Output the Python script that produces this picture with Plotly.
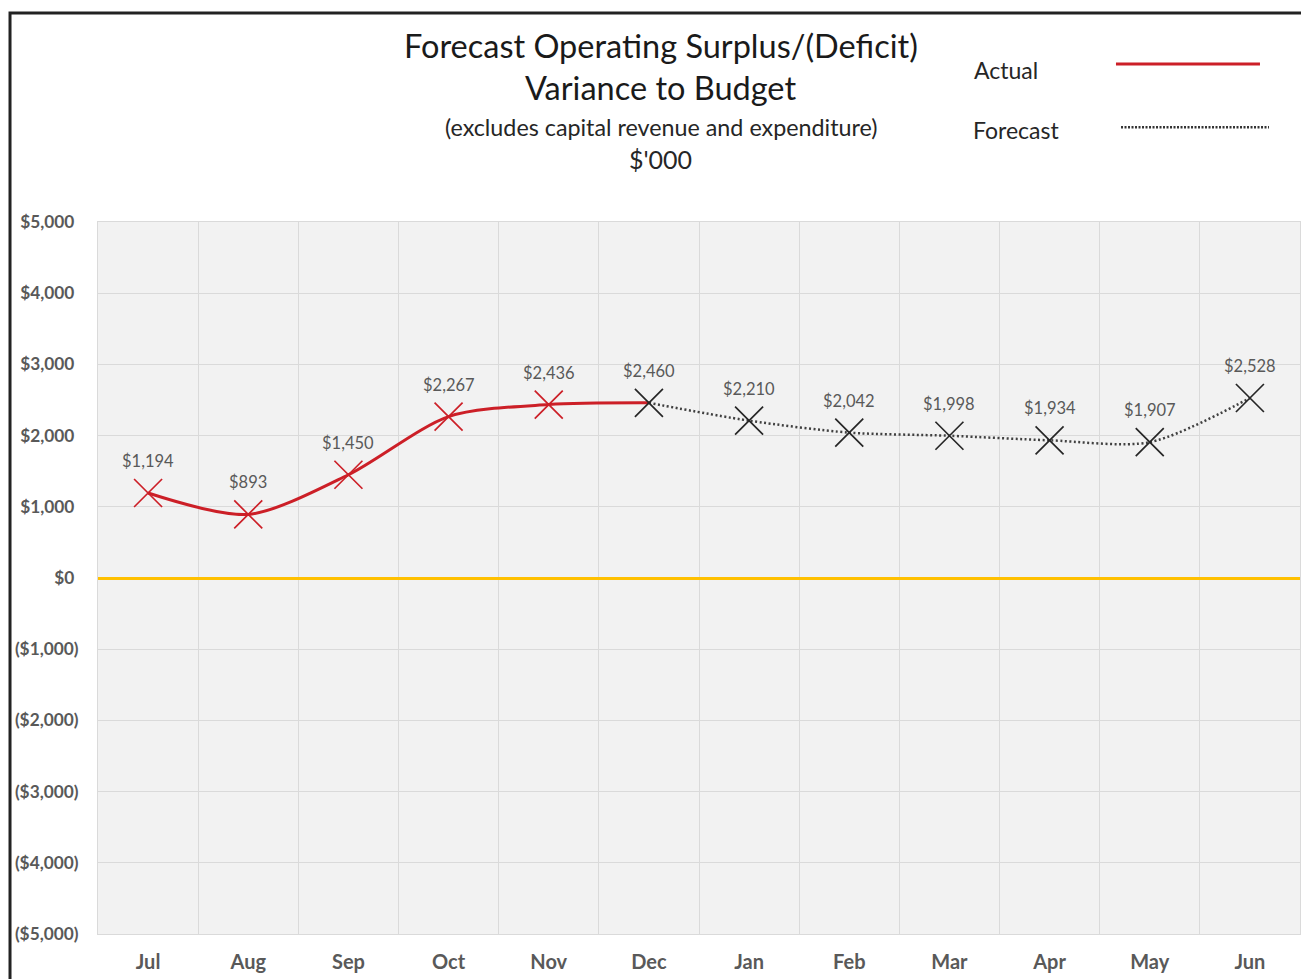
import plotly.graph_objects as go

months = ["Jul", "Aug", "Sep", "Oct", "Nov", "Dec", "Jan", "Feb", "Mar", "Apr", "May", "Jun"]
actual_months = ["Jul", "Aug", "Sep", "Oct", "Nov", "Dec"]
actual_values = [1194, 893, 1450, 2267, 2436, 2460]
forecast_months = ["Dec", "Jan", "Feb", "Mar", "Apr", "May", "Jun"]
forecast_values = [2460, 2210, 2042, 1998, 1934, 1907, 2528]
label_values = [1194, 893, 1450, 2267, 2436, 2460, 2210, 2042, 1998, 1934, 1907, 2528]
y_tickvals = [5000, 4000, 3000, 2000, 1000, 0, -1000, -2000, -3000, -4000, -5000]
y_ticktext = ["$5,000 ", "$4,000 ", "$3,000 ", "$2,000 ", "$1,000 ", "$0 ",
              "($1,000)", "($2,000)", "($3,000)", "($4,000)", "($5,000)"]

RED = "#CC1F27"
DARK = "#262626"
LABEL = "#595959"
FONT = "Lato"

fig = go.Figure()

actual_marker_colors = [RED] * (len(actual_values) - 1) + ["rgba(0,0,0,0)"]
fig.add_trace(go.Scatter(
    x=actual_months, y=actual_values, mode="lines+markers", name="Actual",
    line=dict(color=RED, width=3, shape="spline", smoothing=0.8),
    marker=dict(symbol="x-thin-open", size=28, color=actual_marker_colors,
                line=dict(color=actual_marker_colors, width=1.7)),
    showlegend=False,
))
fig.add_trace(go.Scatter(
    x=forecast_months, y=forecast_values, mode="lines+markers", name="Forecast",
    line=dict(color="#404040", width=2.5, dash="2px,2.5px", shape="spline", smoothing=0.8),
    marker=dict(symbol="x-thin-open", size=28, color=DARK,
                line=dict(color=DARK, width=1.7)),
    showlegend=False,
))

for m, v in zip(months, label_values):
    fig.add_annotation(x=m, y=v, text=f"${v:,}", showarrow=False, yshift=32,
                       font=dict(family=FONT, size=16.5, color=LABEL))

# Titles
TX = 0.468
fig.add_annotation(xref="paper", yref="paper", x=TX, y=1.248, text="Forecast Operating Surplus/(Deficit)",
                   showarrow=False, font=dict(family=FONT, size=32.5, color="#1a1a1a"), xanchor="center", yanchor="middle")
fig.add_annotation(xref="paper", yref="paper", x=TX, y=1.189, text="Variance to Budget",
                   showarrow=False, font=dict(family=FONT, size=32.5, color="#1a1a1a"), xanchor="center", yanchor="middle")
fig.add_annotation(xref="paper", yref="paper", x=TX, y=1.133, text="(excludes capital revenue and expenditure)",
                   showarrow=False, font=dict(family=FONT, size=23.3, color="#262626"), xanchor="center", yanchor="middle")
fig.add_annotation(xref="paper", yref="paper", x=TX, y=1.088, text="$'000",
                   showarrow=False, font=dict(family=FONT, size=25, color="#262626"), xanchor="center", yanchor="middle")

# Custom legend
fig.add_annotation(xref="paper", yref="paper", x=0.727, y=1.214, text="Actual", showarrow=False,
                   xanchor="left", yanchor="middle", font=dict(family=FONT, size=23, color="#262626"))
fig.add_annotation(xref="paper", yref="paper", x=0.726, y=1.129, text="Forecast", showarrow=False,
                   xanchor="left", yanchor="middle", font=dict(family=FONT, size=23, color="#262626"))
fig.add_shape(type="line", xref="paper", yref="paper", x0=0.8469, x1=0.9667, y0=1.222, y1=1.222,
              line=dict(color=RED, width=3))
fig.add_shape(type="line", xref="paper", yref="paper", x0=0.8511, x1=0.9742, y0=1.133, y1=1.133,
              line=dict(color="#333333", width=2.5, dash="2px,1.5px"))

# Outer border
fig.add_shape(type="rect", xref="paper", yref="paper", x0=-0.0732, x1=1.05, y0=-0.2, y1=1.2935,
              line=dict(color="#222222", width=3), fillcolor="rgba(0,0,0,0)", layer="above")

fig.update_layout(
    width=1301, height=971,
    margin=dict(l=90, r=9, t=214, b=45),
    paper_bgcolor="white", plot_bgcolor="#F2F2F2",
    font=dict(family=FONT),
)
fig.update_xaxes(
    type="category", categoryorder="array", categoryarray=months,
    tickson="boundaries", showgrid=True, gridcolor="#DADADA", gridwidth=1,
    showline=True, linecolor="#DADADA", mirror=True, ticks="",
    tickfont=dict(family=FONT, size=20, color=LABEL, weight="bold"),
    ticklabelstandoff=10, range=[-0.5, 11.5], automargin=False,
)
fig.update_yaxes(
    range=[-5000, 5000], tickvals=y_tickvals, ticktext=y_ticktext,
    showgrid=True, gridcolor="#DADADA", gridwidth=1,
    zeroline=True, zerolinecolor="#FFC000", zerolinewidth=3,
    showline=True, linecolor="#DADADA", mirror=True, ticks="",
    tickfont=dict(family=FONT, size=17.3, color=LABEL, weight="bold"),
    ticklabelstandoff=15, automargin=False,
)

fig.write_html("out.html")
